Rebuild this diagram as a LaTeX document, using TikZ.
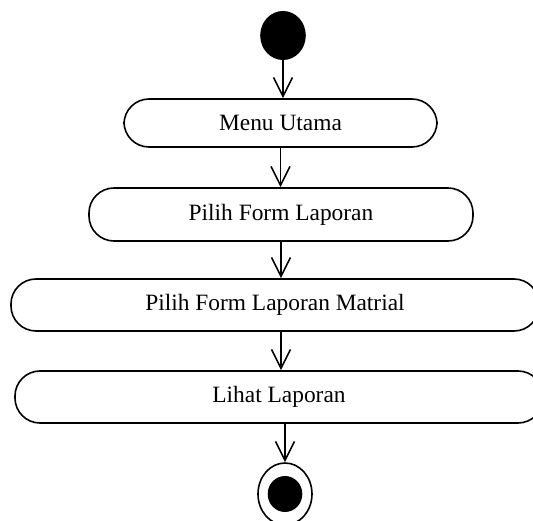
\documentclass[tikz,border=0pt]{standalone}
\usepackage{fontspec}
\setmainfont{Liberation Serif}
\usetikzlibrary{arrows.meta,shapes.geometric}
\tikzset{
  act/.style={draw, line width=1.6pt, rounded corners=25pt, inner sep=0pt, align=center,
    font=\fontsize{23.4}{28}\selectfont},
  flow/.style={line width=1.6pt, -{Straight Barb[length=19pt,width=19pt,line width=1.6pt]}},
}
\begin{document}
\begin{tikzpicture}[x=1pt,y=-1pt]
\useasboundingbox (0,0) rectangle (533,521);
\clip (0,0) rectangle (533,521);
\node[ellipse, fill=black, inner sep=0pt, minimum width=45.6pt, minimum height=49pt] (start) at (283,35.5) {};
\node[act, minimum width=313pt, minimum height=48pt] (menu) at (280.5,123) {Menu Utama};
\node[act, minimum width=384pt, minimum height=53pt] (pilih) at (281,214.5) {Pilih Form Laporan};
\node[act, minimum width=528pt, minimum height=52pt] (matrial) at (275,305) {Pilih Form Laporan Matrial};
\node[act, minimum width=528pt, minimum height=52pt] (lihat) at (279,397) {Lihat Laporan};
\node[ellipse, draw, line width=1.6pt, inner sep=0pt, minimum width=54pt, minimum height=62pt] (end) at (285,494) {};
\node[ellipse, fill=black, inner sep=0pt, minimum width=34.6pt, minimum height=36pt] (endin) at (285,494) {};
\draw[flow] (start.south) -- (start.south |- menu.north);
\draw[flow] (menu.south) -- (menu.south |- pilih.north);
\draw[flow] (pilih.south) -- (pilih.south |- matrial.north);
\draw[flow] (matrial.south -| pilih.south) -- (lihat.north -| pilih.south);
\draw[flow] (end.north |- lihat.south) -- (end.north);
\end{tikzpicture}
\end{document}
